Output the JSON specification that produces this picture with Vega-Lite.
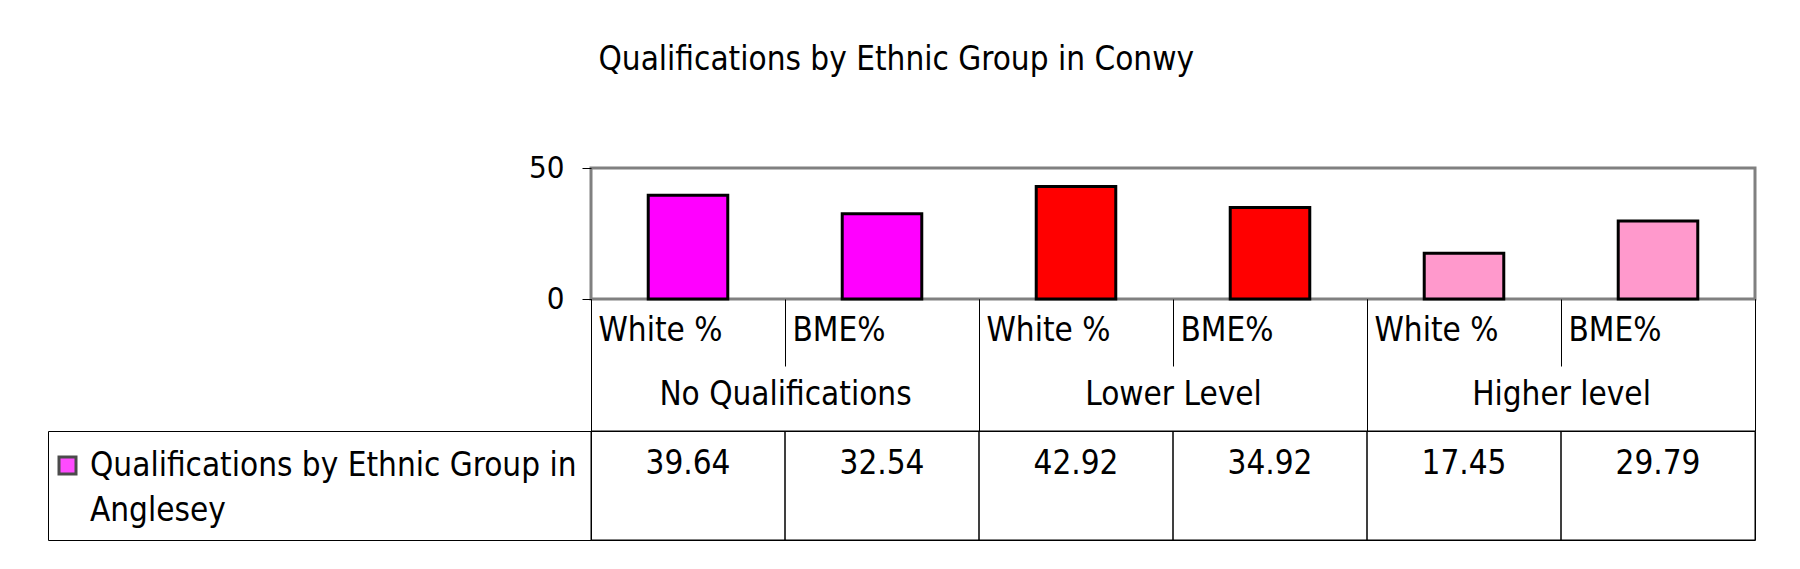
{
  "$schema": "https://vega.github.io/schema/vega-lite/v6.json",
  "background": "white",
  "padding": {"left": 47, "top": 43, "right": 0, "bottom": 0},
  "title": {
    "text": "Qualifications by Ethnic Group in Conwy",
    "font": "DejaVu Sans Condensed, DejaVu Sans",
    "fontSize": 33,
    "fontWeight": "normal",
    "color": "black",
    "anchor": "middle",
    "baseline": "alphabetic",
    "offset": 48,
    "dx": -6
  },
  "datasets": {
    "bars": [
      {"group": "No Qualifications", "col": "No Qualifications|White %", "value": 39.64},
      {"group": "No Qualifications", "col": "No Qualifications|BME%", "value": 32.54},
      {"group": "Lower Level", "col": "Lower Level|White %", "value": 42.92},
      {"group": "Lower Level", "col": "Lower Level|BME%", "value": 34.92},
      {"group": "Higher level", "col": "Higher level|White %", "value": 17.45},
      {"group": "Higher level", "col": "Higher level|BME%", "value": 29.79}
    ],
    "series": [
      {"series": "Qualifications by Ethnic Group in Anglesey"}
    ]
  },
  "columns": 2,
  "spacing": {"row": 132, "column": 0},
  "bounds": "flush",
  "resolve": {"scale": {"fill": "independent"}, "legend": {"fill": "independent"}},
  "concat": [
    {
      "data": {"values": []},
      "width": 543,
      "height": 131,
      "view": {"stroke": null},
      "mark": "point"
    },
    {
      "data": {"name": "bars"},
      "width": 1164,
      "height": 131,
      "view": {"stroke": "#808080", "strokeWidth": 3},
      "layer": [
        {
          "mark": {"type": "bar", "stroke": "black", "strokeWidth": 3, "width": {"band": 0.41}},
          "encoding": {
            "x": {
              "field": "col", "type": "nominal", "sort": null,
              "scale": {"type": "band", "paddingInner": 0, "paddingOuter": 0},
              "axis": {
                "orient": "bottom", "domain": false, "grid": false, "title": null,
                "ticks": true, "tickBand": "extent", "tickSize": 67, "tickColor": "black", "tickWidth": 1,
                "labelExpr": "split(datum.label, '|')[1]",
                "labelAlign": "left", "labelOffset": -90, "labelBaseline": "alphabetic", "labelPadding": -26,
                "labelAngle": 0, "labelOverlap": false, "labelLimit": 400,
                "labelFont": "DejaVu Sans Condensed, DejaVu Sans",
                "labelFontSize": 33, "labelColor": "black"
              }
            },
            "y": {
              "field": "value", "type": "quantitative",
              "scale": {"domain": [0, 50], "nice": false},
              "axis": {
                "values": [0, 50], "domain": false, "grid": false, "title": null,
                "tickSize": 9, "tickColor": "black", "tickWidth": 1,
                "labelPadding": 18, "labelFlush": false,
                "labelFont": "DejaVu Sans Condensed, DejaVu Sans",
                "labelFontSize": 31, "labelColor": "black"
              }
            },
            "fill": {
              "field": "group", "type": "nominal", "sort": null,
              "scale": {"domain": ["No Qualifications", "Lower Level", "Higher level"], "range": ["#FF00FF", "#FF0000", "#FF99CC"]},
              "legend": null
            }
          }
        },
        {
          "mark": {"type": "point", "opacity": 0},
          "encoding": {
            "x": {
              "field": "group", "type": "nominal", "sort": null,
              "scale": {"type": "band", "paddingInner": 0, "paddingOuter": 0},
              "axis": {
                "orient": "bottom", "domain": false, "grid": false, "title": null,
                "ticks": true, "tickBand": "extent", "tickSize": 132, "tickColor": "black", "tickWidth": 1,
                "labelAlign": "center", "labelBaseline": "alphabetic", "labelPadding": -27,
                "labelAngle": 0, "labelOverlap": false, "labelLimit": 400,
                "labelFont": "DejaVu Sans Condensed, DejaVu Sans",
                "labelFontSize": 33, "labelColor": "black"
              }
            }
          }
        }
      ],
      "resolve": {"scale": {"x": "independent"}, "axis": {"x": "independent"}}
    },
    {
      "data": {"name": "series"},
      "width": 543,
      "height": 109,
      "view": {"stroke": "black", "strokeWidth": 1},
      "mark": {"type": "square", "size": 0, "stroke": "black", "strokeWidth": 3},
      "encoding": {
        "fill": {
          "field": "series", "type": "nominal",
          "scale": {"range": ["#FF00FF"]},
          "legend": {
            "orient": "none", "legendX": 3, "legendY": 18, "title": null, "padding": 0,
            "symbolType": "square", "symbolSize": 289, "symbolStrokeColor": "black", "symbolStrokeWidth": 3,
            "labelExpr": "[substring(datum.label, 0, 33), substring(datum.label, 34)]",
            "labelFont": "DejaVu Sans Condensed, DejaVu Sans",
            "labelFontSize": 33, "labelColor": "black", "labelLimit": 600, "labelOffset": 6
          }
        }
      }
    },
    {
      "data": {"name": "bars"},
      "width": 1164,
      "height": 109,
      "view": {"stroke": "black", "strokeWidth": 1},
      "encoding": {
        "x": {
          "field": "col", "type": "nominal", "sort": null,
          "scale": {"type": "band", "paddingInner": 0, "paddingOuter": 0},
          "axis": null
        }
      },
      "layer": [
        {"mark": {"type": "rect", "fill": "transparent", "stroke": "black", "strokeWidth": 1}},
        {
          "mark": {
            "type": "text", "baseline": "alphabetic", "dy": -12, "color": "black",
            "font": "DejaVu Sans Condensed, DejaVu Sans", "fontSize": 33
          },
          "encoding": {"text": {"field": "value", "type": "quantitative", "format": ".2f"}}
        }
      ]
    }
  ],
  "config": {
    "style": {"guide-label": {"lineHeight": 45}}
  }
}
